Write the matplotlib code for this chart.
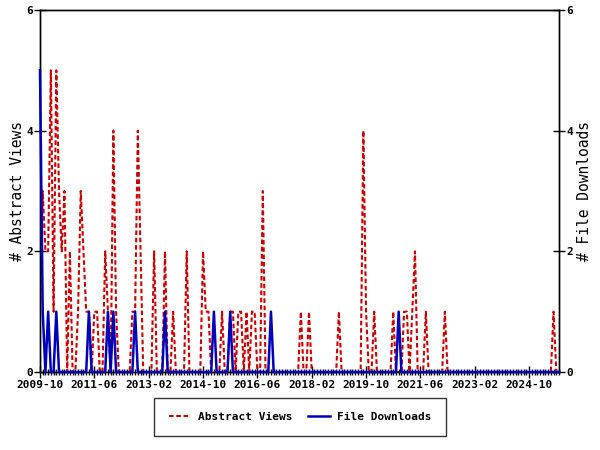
'''Monthly abstract views and file downloads, SSRN style'''

import matplotlib
matplotlib.use("Agg")
import matplotlib.pyplot as plt
import numpy as np
from matplotlib.ticker import MultipleLocator, FixedLocator


# monthly counts, starting 2009-10
abstract_views = [
    1, 3, 2, 2, 5, 1, 5, 3, 2, 3, 0, 2,
    0, 0, 1, 3, 2, 1, 1, 0, 1, 1, 0, 0,
    2, 1, 0, 4, 1, 0, 0, 0, 0, 0, 1, 1,
    4, 2, 0, 0, 0, 0, 2, 0, 0, 0, 2, 0,
    0, 1, 0, 0, 0, 0, 2, 0, 0, 0, 0, 0,
    2, 1, 1, 0, 0, 0, 0, 1, 0, 0, 1, 1,
    0, 1, 1, 0, 1, 0, 1, 1, 0, 0, 3, 0,
    0, 0, 0, 0, 0, 0, 0, 0, 0, 0, 0, 0,
    1, 0, 0, 1, 0, 0, 0, 0, 0, 0, 0, 0,
    0, 0, 1, 0, 0, 0, 0, 0, 0, 0, 0, 4,
    1, 0, 0, 1, 0, 0, 0, 0, 0, 0, 1, 0,
    0, 0, 1, 1, 0, 1, 2, 0, 0, 0, 1, 0,
    0, 0, 0, 0, 0, 1, 0, 0, 0, 0, 0, 0,
    0, 0, 0, 0, 0, 0, 0, 0, 0, 0, 0, 0,
    0, 0, 0, 0, 0, 0, 0, 0, 0, 0, 0, 0,
    0, 0, 0, 0, 0, 0, 0, 0, 0, 1, 0, 0,
]

file_downloads = [
    5, 1, 0, 1, 0, 0, 1, 0, 0, 0, 0, 0,
    0, 0, 0, 0, 0, 0, 1, 0, 0, 0, 0, 0,
    0, 1, 0, 1, 0, 0, 0, 0, 0, 0, 0, 1,
    0, 0, 0, 0, 0, 0, 0, 0, 0, 0, 1, 0,
    0, 0, 0, 0, 0, 0, 0, 0, 0, 0, 0, 0,
    0, 0, 0, 0, 1, 0, 0, 0, 0, 0, 1, 0,
    0, 0, 0, 0, 0, 0, 0, 0, 0, 0, 0, 0,
    0, 1, 0, 0, 0, 0, 0, 0, 0, 0, 0, 0,
    0, 0, 0, 0, 0, 0, 0, 0, 0, 0, 0, 0,
    0, 0, 0, 0, 0, 0, 0, 0, 0, 0, 0, 0,
    0, 0, 0, 0, 0, 0, 0, 0, 0, 0, 0, 0,
    1, 0, 0, 0, 0, 0, 0, 0, 0, 0, 0, 0,
    0, 0, 0, 0, 0, 0, 0, 0, 0, 0, 0, 0,
    0, 0, 0, 0, 0, 0, 0, 0, 0, 0, 0, 0,
    0, 0, 0, 0, 0, 0, 0, 0, 0, 0, 0, 0,
    0, 0, 0, 0, 0, 0, 0, 0, 0, 0, 0, 0,
]

tick_labels = ['2009-10', '2011-06', '2013-02', '2014-10', '2016-06',
               '2018-02', '2019-10', '2021-06', '2023-02', '2024-10']

RED = '#cc0000'
BLUE = '#0000bb'

plt.rcParams['font.family'] = 'DejaVu Sans Mono'

months = np.arange(len(abstract_views))

fig = plt.figure(figsize=(6, 4.5), dpi=100)
ax = fig.add_axes([40 / 600, 78 / 450, 519 / 600, 362 / 450])
ax2 = ax.twinx()

ax.plot(months, abstract_views, color=RED, lw=1.5, dashes=(2.2, 1.3),
        label='Abstract Views', zorder=2)
ax2.plot(months, file_downloads, color=BLUE, lw=1.8, clip_on=False,
         label='File Downloads', zorder=3)

for a in (ax, ax2):
    a.set_ylim(0, 6)
    a.set_xlim(0, len(abstract_views) - 1)
    a.yaxis.set_major_locator(FixedLocator([0, 2, 4, 6]))
    a.tick_params(axis='y', direction='inout', length=8, width=1,
                  labelsize=8, pad=1)
    for lbl in a.get_yticklabels():
        lbl.set_fontweight('bold')
    for s in a.spines.values():
        s.set_linewidth(1)

ax.set_xticks(np.arange(len(tick_labels)) * 20)
ax.set_xticklabels(tick_labels, fontweight='bold')
ax.xaxis.set_minor_locator(MultipleLocator(1))
ax.tick_params(axis='x', which='major', direction='inout', length=8,
               width=1, labelsize=8, pad=2)
ax.tick_params(axis='x', which='minor', direction='inout', length=4,
               width=1)

ax.set_ylabel('# Abstract Views', fontsize=10.5, labelpad=1)
ax2.set_ylabel('# File Downloads', fontsize=10.5, labelpad=3)

h1, l1 = ax.get_legend_handles_labels()
h2, l2 = ax2.get_legend_handles_labels()
leg = fig.legend(h1 + h2, l1 + l2, loc='center', ncol=2,
                 bbox_to_anchor=(0.5, 33 / 450),
                 prop={'size': 8, 'weight': 'bold'},
                 frameon=True, fancybox=False, edgecolor='black',
                 handlelength=2.0, handletextpad=0.6, columnspacing=1.4,
                 borderpad=1.3, borderaxespad=0)
leg.get_frame().set_linewidth(1)

fig.savefig('out.png', dpi=100)
